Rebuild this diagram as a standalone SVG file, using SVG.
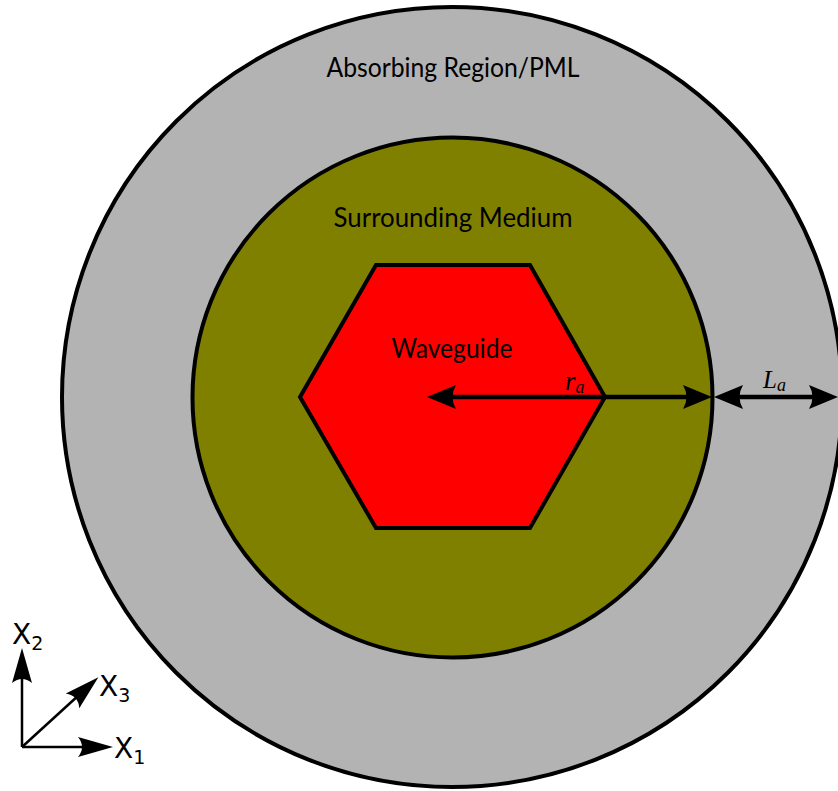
<svg xmlns="http://www.w3.org/2000/svg" width="838" height="791" viewBox="0 0 838 791">
  <style>
    .region { stroke: #000; stroke-width: 4; }
    .label { font-family: Lato, "Open Sans", "Liberation Sans", sans-serif; font-size: 26px; fill: #000; }
    .math { font-family: "Liberation Serif", "DejaVu Serif", serif; font-style: italic; fill: #000; }
    .axis-label { font-family: "DejaVu Sans", "Liberation Sans", sans-serif; fill: #000; }
    .dim { stroke: #000; stroke-width: 4.5; fill: none; }
    .axis { stroke: #000; stroke-width: 2.5; fill: none; }
  </style>
  <defs>
    <!-- dimension arrowhead: line stops at 0, tip at +10 -->
    <marker id="dimHead" markerUnits="userSpaceOnUse" viewBox="-24 -14 36 28" markerWidth="36" markerHeight="28" refX="0" refY="0" orient="auto-start-reverse" overflow="visible">
      <path d="M10,0 L-19,-12 Q-12,0 -19,12 Z" fill="#000"/>
    </marker>
    <!-- axis arrowhead: line stops at 0, tip at +10 -->
    <marker id="axisHead" markerUnits="userSpaceOnUse" viewBox="-30 -12 42 24" markerWidth="42" markerHeight="24" refX="0" refY="0" orient="auto" overflow="visible">
      <path d="M10,0 L-25,-10 Q-17,0 -25,10 Z" fill="#000"/>
    </marker>
  </defs>

  <g id="absorbing-region">
    <circle class="region" cx="452" cy="397" r="390" fill="#b3b3b3"/>
    <text class="label" x="453" y="77" text-anchor="middle" textLength="253" lengthAdjust="spacingAndGlyphs">Absorbing Region/PML</text>
  </g>

  <g id="surrounding-medium">
    <circle class="region" cx="452.5" cy="397.5" r="260" fill="#808000"/>
    <text class="label" x="453" y="227" text-anchor="middle" textLength="239" lengthAdjust="spacingAndGlyphs">Surrounding Medium</text>
  </g>

  <g id="waveguide">
    <polygon class="region" points="376,265 530,265 605,397 530,528 376,528 300,397" fill="#ff0000"/>
    <text class="label" x="452" y="358" text-anchor="middle" textLength="121" lengthAdjust="spacingAndGlyphs">Waveguide</text>
  </g>

  <g id="connectors">
    <!-- radius r_a -->
    <line class="dim" x1="437" y1="397" x2="702" y2="397" marker-start="url(#dimHead)" marker-end="url(#dimHead)"/>
    <!-- PML thickness L_a -->
    <line class="dim" x1="724" y1="397" x2="828" y2="397" marker-start="url(#dimHead)" marker-end="url(#dimHead)"/>
    <!-- coordinate axes -->
    <line class="axis" x1="22" y1="747" x2="22" y2="658" marker-end="url(#axisHead)"/>
    <line class="axis" x1="22" y1="747" x2="103" y2="747" marker-end="url(#axisHead)"/>
    <line class="axis" x1="22" y1="747" x2="91" y2="684" marker-end="url(#axisHead)"/>
  </g>

  <g id="dimension-labels">
    <text class="math" x="565" y="390" font-size="27">r<tspan font-size="18" dy="3">a</tspan></text>
    <text class="math" x="763" y="388" font-size="25">L<tspan font-size="18" dy="3">a</tspan></text>
  </g>

  <g id="axis-labels">
    <text class="axis-label" x="12" y="644" font-size="28">X<tspan font-size="19" dy="6">2</tspan></text>
    <text class="axis-label" x="99" y="696" font-size="28">X<tspan font-size="19" dy="6">3</tspan></text>
    <text class="axis-label" x="114" y="758" font-size="28">X<tspan font-size="19" dy="6">1</tspan></text>
  </g>
</svg>
